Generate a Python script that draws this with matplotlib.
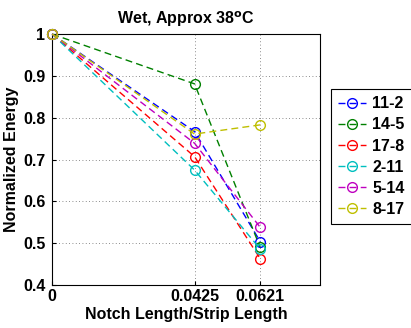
import matplotlib
matplotlib.use('Agg')
import matplotlib.pyplot as plt

# notch length / strip length
x_vals = [0, 0.0425, 0.0621]
x_labels = ['0', '0.0425', '0.0621']

series_names = ['11-2', '14-5', '17-8', '2-11', '5-14', '8-17']
e_11_2 = [1.0, 0.767, 0.504]
e_14_5 = [1.0, 0.881, 0.490]
e_17_8 = [1.0, 0.707, 0.463]
e_2_11 = [1.0, 0.675, 0.486]
e_5_14 = [1.0, 0.739, 0.538]
e_8_17 = [1.0, 0.761, 0.783]
series_vals = [e_11_2, e_14_5, e_17_8, e_2_11, e_5_14, e_8_17]
colors = ['#0000ff', '#008000', '#ff0000', '#00bfbf', '#bf00bf', '#bfbf00']

plt.rcParams['font.family'] = ['Liberation Sans', 'DejaVu Sans']
plt.rcParams['font.weight'] = 'bold'
plt.rcParams['font.size'] = 11.5

fig = plt.figure(figsize=(4.11, 3.28), dpi=100)
ax = fig.add_axes([0.127, 0.131, 0.652, 0.765])

for name, vals, c in zip(series_names, series_vals, colors):
    ax.plot(x_vals, vals, linestyle='--', dashes=(5, 3), marker='o', color=c,
            markerfacecolor='none', markersize=7, markeredgewidth=1.0,
            linewidth=1.0, label=name, clip_on=False, zorder=3)

ax.set_xlim(0, 0.08)
ax.set_ylim(0.4, 1.0)
ax.set_xticks(x_vals)
ax.set_xticklabels(x_labels)
ax.set_yticks([0.4, 0.5, 0.6, 0.7, 0.8, 0.9, 1.0])
ax.set_yticklabels(['0.4', '0.5', '0.6', '0.7', '0.8', '0.9', '1'])
ax.tick_params(direction='in', length=3, width=0.8, labelsize=11.5)
ax.tick_params(axis='x', pad=3)
ax.tick_params(axis='y', pad=5)
ax.grid(True, color='black', linestyle=(0, (1, 3)), linewidth=0.6, alpha=0.6)
for s in ax.spines.values():
    s.set_linewidth(0.8)

ax.set_title('Wet, Approx 38$^\\mathbf{o}$C', fontsize=11.5, fontweight='bold', pad=7)
ax.set_xlabel('Notch Length/Strip Length', fontsize=11.5, fontweight='bold', labelpad=2)
ax.set_ylabel('Normalized Energy', fontsize=11.5, fontweight='bold', labelpad=3)

leg = fig.legend(loc='upper left', bbox_to_anchor=(0.805, 0.728),
                 fancybox=False, framealpha=1, edgecolor='black',
                 handlelength=1.75, handletextpad=0.4, labelspacing=0.38,
                 borderpad=0.45, borderaxespad=0, fontsize=11.5)
leg.get_frame().set_linewidth(0.8)

fig.savefig('out.png', dpi=100)
